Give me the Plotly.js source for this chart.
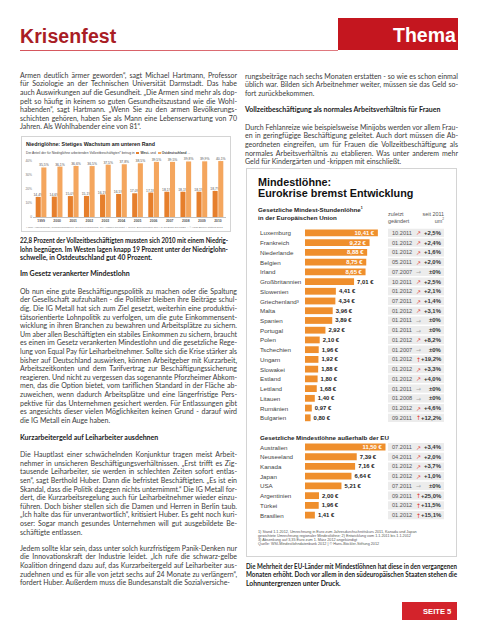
<!DOCTYPE html>
<html><head><meta charset="utf-8">
<script src="https://cdn.plot.ly/plotly-3.0.1.min.js"></script>
<style>
html,body{margin:0;padding:0;background:#fff;}
body{width:477px;height:640px;position:relative;overflow:hidden;font-family:Lato,"Open Sans",sans-serif;}
.ln{position:absolute;white-space:nowrap;color:#3a3a3a;font-size:7px;}
.t{position:absolute;white-space:nowrap;font-family:"Liberation Sans",Arial,sans-serif;}
.sq{display:inline-block;width:3px;height:2.6px;vertical-align:middle;margin:0 1px;}
</style></head><body>
<div id="c1" style="position:absolute;left:21px;top:136px;width:210px;height:96px;"></div>
<div style="position:absolute;left:21px;top:136px;width:210px;height:96px;box-sizing:border-box;border:1px solid #d4d4d4;pointer-events:none;"></div>
<div id="c2" style="position:absolute;left:246px;top:168px;width:211px;height:389px;"></div>
<div style="position:absolute;left:246px;top:168px;width:211px;height:389px;box-sizing:border-box;border:1px solid #d4d4d4;pointer-events:none;"></div>
<script>
// ---------- DATA ----------
const nlYears = ['1999','2000','2001','2002','2003','2004','2005','2006','2007','2008','2009','2010'];
const nlWest  = [14.4,14.6,15.0,15.1,16.1,16.5,17.0,17.5,18.1,18.1,18.1,18.7];
const nlOst   = [35.5,36.1,36.6,36.5,37.5,37.8,38.5,39.5,39.5,39.8,39.9,40.1];
const nlTicks = [0,10,20,30,40];
const nlTickText = ['0','10%','20%','30%','40%'];

const euCountries = ['Luxemburg','Frankreich','Niederlande','Belgien','Irland','Großbritannien','Slowenien','Griechenland³','Malta','Spanien','Portugal','Polen','Tschechien','Ungarn','Slowakei','Estland','Lettland','Litauen','Rumänien','Bulgarien'];
const euWage   = [10.41,9.22,8.88,8.75,8.65,7.01,4.41,4.34,3.96,3.89,2.92,2.10,1.96,1.92,1.88,1.80,1.68,1.40,0.97,0.80];
const euDate   = ['10.2011','01.2012','01.2012','05.2011','07.2007','10.2011','01.2012','07.2011','01.2012','01.2011','01.2011','01.2012','01.2007','01.2012','01.2012','01.2012','01.2011','01.2008','01.2012','09.2011'];
const euChange = [2.5,2.4,1.6,2.0,0,2.5,2.1,1.4,3.1,0,0,8.2,0,19.2,3.3,4.0,0,0,4.6,12.2];

const otherCountries = ['Australien','Neuseeland','Kanada','Japan','USA','Argentinien','Türkei','Brasilien'];
const otherWage   = [11.50,7.39,7.16,6.64,5.21,2.00,1.96,1.41];
const otherDate   = ['07.2011','04.2011','01.2012','01.2012','07.2011','09.2011','01.2012','01.2012'];
const otherChange = [3.4,2.0,3.7,1.0,0,25.0,11.5,15.1];

const gapRows = ['_gap1','_gap2'];
const otherHeader = 'Gesetzliche Mindestlöhne außerhalb der EU';

// ---------- TEXT HELPERS ----------
function addLines(lines, x, y0, w, o) {
  o = o || {};
  const lh = o.lh || 8.6;
  lines.forEach((t, i) => {
    const d = document.createElement('div');
    d.className = 'ln';
    d.style.left = x + 'px';
    d.style.top = (y0 + i * lh - lh / 2) + 'px';
    d.style.height = lh + 'px';
    d.style.lineHeight = lh + 'px';
    if (o.bold) d.style.fontWeight = '700';
    if (o.color) d.style.color = o.color;
    if (o.size) d.style.fontSize = o.size + 'px';
    const s = document.createElement('span');
    s.textContent = t;
    d.appendChild(s);
    document.body.appendChild(d);
    const nat = s.getBoundingClientRect().width;
    const justify = o.justify && (i < lines.length - 1);
    if (nat > w - 0.5) {
      d.style.width = nat + 'px';
      d.style.transformOrigin = '0 50%';
      d.style.transform = 'scaleX(' + (w / nat) + ')';
    } else {
      d.style.width = w + 'px';
      if (justify) { d.style.whiteSpace = 'normal'; d.style.textAlign = 'justify'; d.style.textAlignLast = 'justify'; }
    }
  });
}
function txt(x, y, html, css) {
  const d = document.createElement('div');
  d.className = 't';
  d.innerHTML = html;
  d.style.cssText += css || '';
  document.body.appendChild(d);
  const h = d.getBoundingClientRect().height;
  d.style.left = x + 'px';
  d.style.top = (y - h / 2) + 'px';
  return d;
}

// ---------- PAGE HEADER ----------
txt(20, 36, 'Krisenfest', 'font-size:19.5px;font-weight:700;color:#a91d25;letter-spacing:0.1px;');
const lineDiv = document.createElement('div');
lineDiv.style.cssText = 'position:absolute;left:20px;top:49.5px;width:318px;height:1.3px;background:linear-gradient(90deg,#d5545b,#e07a80);';
document.body.appendChild(lineDiv);
const box = document.createElement('div');
box.style.cssText = 'position:absolute;left:338px;top:18px;width:120px;height:32px;background:#c4161f;';
document.body.appendChild(box);
txt(393, 35, 'Thema', 'font-size:19.5px;font-weight:700;color:#fff;');

// ---------- LEFT COLUMN ----------
const LX = 20, LW = 217;
addLines([
 'Armen deutlich ärmer geworden“, sagt Michael Hartmann, Professor',
 'für Soziologie an der Technischen Universität Darmstadt. Das habe',
 'auch Auswirkungen auf die Gesundheit. „Die Armen sind mehr als dop-',
 'pelt so häufig in keinem so guten Gesundheitszustand wie die Wohl-',
 'habenden“, sagt Hartmann. „Wenn Sie zu den armen Bevölkerungs-',
 'schichten gehören, haben Sie als Mann eine Lebenserwartung von 70',
 'Jahren. Als Wohlhabender eine von 81“.'
], LX, 75, LW, {justify:true});
addLines([
 '22,8 Prozent der Vollzeitbeschäftigten mussten sich 2010 mit einem Niedrig-',
 'lohn begnügen. Im Westen lagen knapp 19 Prozent unter der Niedriglohn-',
 'schwelle, in Ostdeutschland gut 40 Prozent.'
], LX, 240.5, 208, {bold:true, color:'#222', size:6.8});
addLines(['Im Gesetz verankerter Mindestlohn'], LX, 273.5, LW, {bold:true, color:'#222'});
addLines([
 'Ob nun eine gute Beschäftigungspolitik zu machen oder die Spaltung',
 'der Gesellschaft aufzuhalten - die Politiker bleiben ihre Beiträge schul-',
 'dig. Die IG Metall hat sich zum Ziel gesetzt, weiterhin eine produktivi-',
 'tätsorientierte Lohnpolitik zu verfolgen, um die gute Einkommensent-',
 'wicklung in ihren Branchen zu bewahren und Arbeitsplätze zu sichern.',
 'Um aber allen Beschäftigten ein stabiles Einkommen zu sichern, braucht',
 'es einen im Gesetz verankerten Mindestlohn und die gesetzliche Rege-',
 'lung von Equal Pay für Leiharbeitnehmer. Sollte sich die Krise stärker als',
 'bisher auf Deutschland auswirken, können Arbeitgeber mit Kurzarbeit,',
 'Arbeitszeitkonten und dem Tarifvertrag zur Beschäftigungssicherung',
 'reagieren. Und nicht zu vergessen das sogenannte Pforzheimer Abkom-',
 'men, das die Option bietet, vom tariflichen Standard in der Fläche ab-',
 'zuweichen, wenn dadurch Arbeitsplätze und eine längerfristige Pers-',
 'pektive für das Unternehmen gesichert werden. Für Entlassungen gibt',
 'es angesichts dieser vielen Möglichkeiten keinen Grund - darauf wird',
 'die IG Metall ein Auge haben.'
], LX, 291, LW, {justify:true});
addLines(['Kurzarbeitergeld auf Leiharbeiter ausdehnen'], LX, 437, LW, {bold:true, color:'#222'});
addLines([
 'Die Hauptlast einer schwächelnden Konjunktur tragen meist Arbeit-',
 'nehmer in unsicheren Beschäftigungsverhältnissen. „Erst trifft es Zig-',
 'tausende Leiharbeiter, sie werden in schlechten Zeiten sofort entlas-',
 'sen“, sagt Berthold Huber. Dann die befristet Beschäftigten. „Es ist ein',
 'Skandal, dass die Politik dagegen nichts unternimmt.“ Die IG Metall for-',
 'dert, die Kurzarbeitsregelung auch für Leiharbeitnehmer wieder einzu-',
 'führen. Doch bisher stellen sich die Damen und Herren in Berlin taub.',
 '„Ich halte das für unverantwortlich“, kritisiert Huber. Es geht noch kuri-',
 'oser: Sogar manch gesundes Unternehmen will gut ausgebildete Be-',
 'schäftigte entlassen.'
], LX, 454.5, LW, {justify:true});
addLines([
 'Jedem sollte klar sein, dass unter solch kurzfristigem Panik-Denken nur',
 'die Innovationskraft der Industrie leidet. „Ich rufe die schwarz-gelbe',
 'Koalition dringend dazu auf, das Kurzarbeitergeld auf Leiharbeiter aus-',
 'zudehnen und es für alle von jetzt sechs auf 24 Monate zu verlängern“,',
 'fordert Huber. Außerdem muss die Bundesanstalt die Sozialversiche-'
], LX, 548, LW, {justify:true});
// last line of this paragraph is justified too (continues in next column)
// ---------- RIGHT COLUMN ----------
const RX = 245, RW = 213;
addLines([
 'rungsbeiträge nach sechs Monaten erstatten - so wie es schon einmal',
 'üblich war. Bilden sich Arbeitnehmer weiter, müssen sie das Geld so-',
 'fort zurückbekommen.'
], RX, 76, RW, {justify:true});
addLines(['Vollzeitbeschäftigung als normales Arbeitsverhältnis für Frauen'], RX, 109.5, RW, {bold:true, color:'#222'});
addLines([
 'Durch Fehlanreize wie beispielsweise Minijobs werden vor allem Frau-',
 'en in geringfügige Beschäftigung geleitet. Auch dort müssen die Ab-',
 'geordneten eingreifen, um für Frauen die Vollzeitbeschäftigung als',
 'normales Arbeitsverhältnis zu etablieren. Was unter anderem mehr',
 'Geld für Kindergärten und -krippen mit einschließt.'
], RX, 127, RW, {justify:true});
addLines([
 'Die Mehrheit der EU-Länder mit Mindestlöhnen hat diese in den vergangenen',
 'Monaten erhöht. Doch vor allem in den südeuropäischen Staaten stehen die',
 'Lohnuntergrenzen unter Druck.'
], 246, 566, 211, {bold:true, color:'#222', size:6.8, justify:true});
const seite = document.createElement('div');
seite.style.cssText = 'position:absolute;left:402px;top:602px;width:55px;height:18px;background:#d3232b;';
document.body.appendChild(seite);
txt(423, 611, 'SEITE 5', 'font-size:7.6px;font-weight:700;color:#fff;');

// ---------- CHART 1 (Niedriglöhne) ----------
const cWest = '#e67f2c', cOst = '#f4a65e';
txt(26, 144, 'Niedriglöhne: Stetiges Wachstum am unteren Rand', 'font-size:5.3px;font-weight:700;color:#1a1a1a;');
txt(26, 153, 'Der Anteil der für Niedriglöhne arbeitenden Vollzeitbeschäftigten* betrug in <span class="sq" style="background:'+cWest+'"></span><b>West-</b> und <span class="sq" style="background:'+cOst+'"></span><b>Ostdeutschland</b> ...', 'font-size:3.3px;color:#444;');
txt(26, 227.5, '* ohne Auszubildende; Niedriglohnschwelle: 2/3 des Medianlohns, alle Angaben gerundet &nbsp;|&nbsp; Quelle: Berechnungen des IAQ auf Basis des SOEP &nbsp;|&nbsp; © Hans-Böckler-Stiftung 2012', 'font-size:2.5px;color:#777;');

const fmtPct = v => v.toFixed(1).replace('.', ',') + '%';
Plotly.newPlot('c1', [
  {type:'bar', x:nlYears, y:nlWest, name:'West', marker:{color:cWest},
   text:nlWest.map(fmtPct), textposition:'outside', cliponaxis:false, constraintext:'none',
   textfont:{size:3.4, color:'#555', family:'Liberation Sans, Arial'}, hoverinfo:'skip'},
  {type:'bar', x:nlYears, y:nlOst, name:'Ost', marker:{color:cOst},
   text:nlOst.map(fmtPct), textposition:'outside', cliponaxis:false, constraintext:'none',
   textfont:{size:3.4, color:'#555', family:'Liberation Sans, Arial'}, hoverinfo:'skip'}
], {
  width:210, height:96, margin:{l:12, r:5, t:21, b:15},
  paper_bgcolor:'rgba(0,0,0,0)', plot_bgcolor:'rgba(0,0,0,0)',
  showlegend:false, barmode:'group', bargap:0.3, bargroupgap:0.1,
  xaxis:{type:'category', showgrid:false, zeroline:false, showline:true, linecolor:'#999', linewidth:0.6,
         ticks:'', tickfont:{size:3.4, color:'#555', family:'Liberation Sans, Arial', weight:'bold'}},
  yaxis:{range:[0,43], tickvals:nlTicks, ticktext:nlTickText, showgrid:false, zeroline:false, showline:false,
         ticks:'', tickfont:{size:3.3, color:'#777', family:'Liberation Sans, Arial'}}
}, {staticPlot:true, displayModeBar:false});

// ---------- CHART 2 (Mindestlöhne) ----------
const cBar = '#ef8f2d';
txt(258, 182, 'Mindestlöhne:', 'font-size:10.8px;font-weight:700;color:#111;');
txt(258, 193, 'Eurokrise bremst Entwicklung', 'font-size:10.8px;font-weight:700;color:#111;');
txt(258, 209.3, 'Gesetzliche Mindest-Stundenlöhne<sup style="font-size:3.5px">1</sup>', 'font-size:6.2px;font-weight:700;color:#222;');
txt(258, 217.3, 'in der Europäischen Union', 'font-size:6.2px;font-weight:700;color:#222;');
txt(388, 214, 'zuletzt', 'font-size:5.4px;color:#555;');
txt(388, 220.7, 'geändert', 'font-size:5.4px;color:#555;');
const h1 = txt(0, 214, 'seit 2011', 'font-size:5.4px;color:#555;');
h1.style.left = (444 - h1.getBoundingClientRect().width) + 'px';
const h2 = txt(0, 220.7, 'um<sup style="font-size:3.2px">2</sup>', 'font-size:5.4px;color:#555;');
h2.style.left = (444 - h2.getBoundingClientRect().width) + 'px';
[
 '1) Stand 1.1.2012, Umrechnung in Euro zum Jahresdurchschnittskurs 2011, Kanada und Japan',
 'gewichtete Umrechnung regionaler Mindestlöhne; 2) Entwicklung vom 1.1.2011 bis 1.1.2012',
 '3) Absenkung auf 3,35 Euro zum 1. März 2012 angekündigt',
 'Quelle: WSI-Mindestlohndatenbank 2012 | © Hans-Böckler-Stiftung 2012'
].forEach((t, i) => txt(258, 531.7 + i * 4.25, t, 'font-size:3.75px;color:#555;'));

const rows   = [...euCountries, ...gapRows, ...otherCountries];
const wages  = [...euWage, null, null, ...otherWage];
const dates  = [...euDate, null, null, ...otherDate];
const changes= [...euChange, null, null, ...otherChange];
const dataRows = [...euCountries, ...otherCountries];

const fmtEur = v => v == null ? '' : v.toFixed(2).replace('.', ',') + ' €';
const fmtChg = v => v === 0 ? '±0%' : '+' + v.toFixed(1).replace('.', ',') + '%';
const isInside = v => v != null && v > 8;

const plotL = 305, plotR = 444, plotW = plotR - plotL, colStart = 388;
const d1 = (colStart - plotL) / plotW;
const pxX = px => (px - plotL) / plotW;
const FAM = 'Liberation Sans, Arial, sans-serif';

const annotations = [];
rows.forEach((r, i) => {
  if (wages[i] == null) return;
  annotations.push({xref:'paper', yref:'y', x:pxX(258), y:r, xanchor:'left', showarrow:false,
    text:r, font:{size:6.2, color:'#444', family:FAM}});
  annotations.push({xref:'paper', yref:'y', x:pxX(389.5), y:r, xanchor:'left', showarrow:false,
    text:dates[i], font:{size:5.6, color:'#555', family:FAM}});
  const c = changes[i];
  const arrow = c === 0 ? '→' : (c > 10 ? '↑' : '↗');
  annotations.push({xref:'paper', yref:'y', x:pxX(418.5), y:r, xanchor:'center', showarrow:false,
    text:arrow, font:{size:6, color: c === 0 ? '#aaa' : '#e2322d', family:'DejaVu Sans'}});
  annotations.push({xref:'paper', yref:'y', x:1, y:r, xanchor:'right', showarrow:false,
    text:fmtChg(c), font:{size:5.9, color:'#333', family:FAM, weight:'bold'}});
});
annotations.push({xref:'paper', yref:'y', x:pxX(258), y:gapRows[1], xanchor:'left', showarrow:false,
  text:otherHeader, font:{size:6.2, color:'#222', family:FAM, weight:'bold'}});

Plotly.newPlot('c2', [
  {type:'bar', orientation:'h', xaxis:'x2', yaxis:'y', y:dataRows, x:dataRows.map(() => 1),
   width:0.84, marker:{color:'#ececec'}, hoverinfo:'skip'},
  {type:'bar', orientation:'h', xaxis:'x', yaxis:'y', y:rows, x:wages, width:0.7,
   marker:{color:cBar}, text:wages.map(fmtEur),
   textposition:wages.map(v => isInside(v) ? 'inside' : 'outside'),
   insidetextanchor:'end', constraintext:'none', cliponaxis:false,
   textfont:{size:5.9, family:FAM, weight:'bold', color:wages.map(v => isInside(v) ? '#ffffff' : '#222')},
   hoverinfo:'skip'}
], {
  width:211, height:389, margin:{l:plotL - 246, r:457 - plotR, t:60, b:37},
  paper_bgcolor:'rgba(0,0,0,0)', plot_bgcolor:'rgba(0,0,0,0)',
  showlegend:false, barmode:'overlay',
  xaxis:{domain:[0, d1], range:[0, (colStart - plotL) / 7], visible:false, fixedrange:true},
  xaxis2:{domain:[d1, 1], range:[0, 1], visible:false, anchor:'y', fixedrange:true},
  yaxis:{type:'category', categoryorder:'array', categoryarray:rows, range:[rows.length - 0.5, -0.5],
         showticklabels:false, showgrid:false, zeroline:false, showline:false, ticks:''},
  annotations:annotations
}, {staticPlot:true, displayModeBar:false});
</script>
</body></html>
